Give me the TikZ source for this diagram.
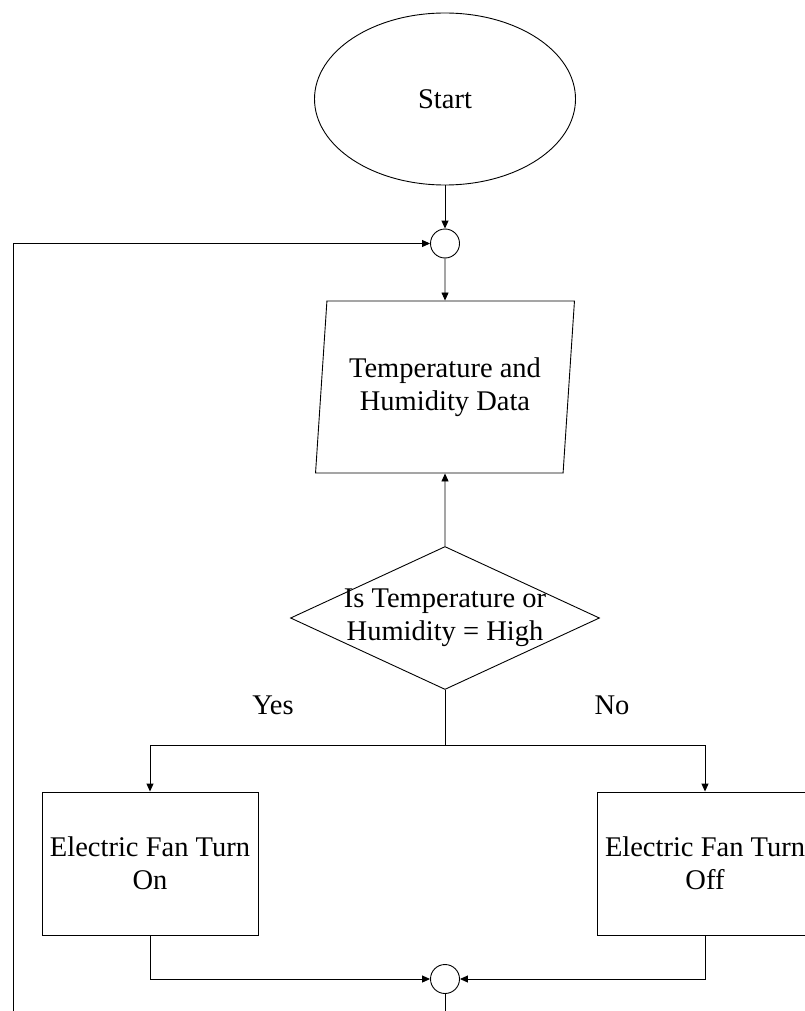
\documentclass[tikz,border=0pt]{standalone}
\usepackage{fontspec}
\setmainfont{Liberation Serif}
\usepackage{tikz}
\usetikzlibrary{shapes.geometric,arrows.meta,positioning}

\tikzset{
    fleche/.style={-{Triangle[length=8pt,width=7pt]}},
    terminal/.style={draw, ellipse, minimum width=261pt, minimum height=172pt},
    jonction/.style={draw, circle, minimum size=29pt, inner sep=0pt},
    donnees/.style={draw, trapezium, trapezium left angle=81.7, trapezium right angle=98.3,
        trapezium stretches=true, minimum width=259pt, minimum height=172pt, align=center},
    decision/.style={draw, diamond, minimum width=309pt, minimum height=143pt, inner sep=0pt},
    action/.style={draw, rectangle, minimum width=216pt, minimum height=143pt, align=center},
}

\begin{document}
\begin{tikzpicture}[x=1pt, y=-1pt, line width=0.9pt,
    font=\fontsize{28.5}{33}\selectfont]
    \useasboundingbox (0,0) rectangle (805,1011);

    % Début
    \node[terminal] (start) at (445,99) {Start};
    \node[jonction] (join1) at (445,243.5) {};

    % Lecture des données
    \node[donnees] (data) at (445,387) {Temperature and\\Humidity Data};

    % Test
    \node[decision, label={[align=center]center:Is Temperature or\\Humidity = High}] (dec) at (445,618) {};
    \coordinate (split) at (445,745);
    \node (yes) at (273,705) {Yes};
    \node (no) at (612,705) {No};

    % Ventilateur
    \node[action] (on) at (150,863.5) {Electric Fan Turn\\On};
    \node[action] (off) at (705,863.5) {Electric Fan Turn\\Off};

    % Fin de boucle
    \node[jonction] (join2) at (445,979) {};
    \coordinate (loopbot) at (13,1011);
    \coordinate (exit) at (445,1011);

    % Liaisons
    \draw[fleche] (start) -- (join1);
    \draw[fleche] (loopbot) |- (join1.west);
    \draw[fleche] (join1) -- (data);
    \draw[fleche] (dec.north) -- (data.south);
    \draw (dec.south) -- (split);
    \draw[fleche] (split) -| (on.north);
    \draw[fleche] (split) -| (off.north);
    \draw[fleche] (on.south) |- (join2.west);
    \draw[fleche] (off.south) |- (join2.east);
    \draw (join2) -- (exit);

\end{tikzpicture}
\end{document}
